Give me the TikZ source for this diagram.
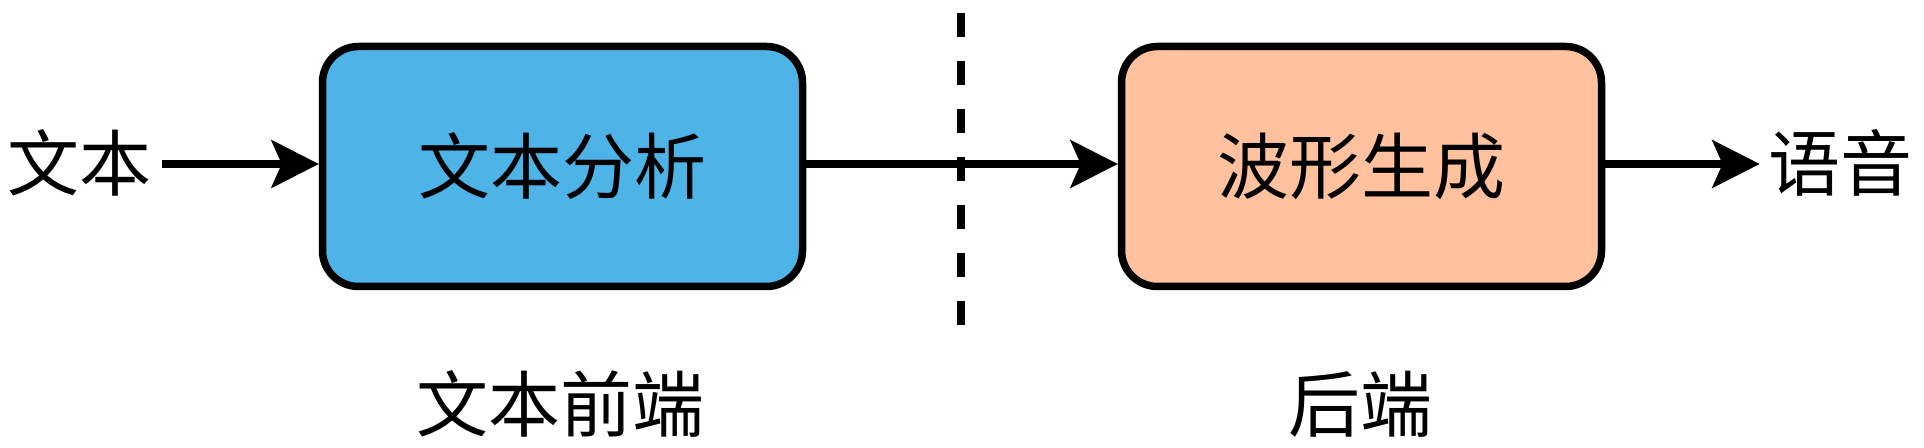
\documentclass[tikz,border=0pt]{standalone}
\usepackage{fontspec}
\setmainfont{Noto Sans CJK SC}
\usetikzlibrary{arrows.meta}
\definecolor{boxblue}{RGB}{78,179,230}
\definecolor{boxpeach}{RGB}{255,193,158}
\begin{document}
\begin{tikzpicture}[x=0.5pt,y=-0.5pt,
  proc/.style={draw=black, line width=3.75pt, rounded corners=18pt,
    minimum width=240pt, minimum height=120pt, inner sep=0pt,
    font=\fontsize{36pt}{40pt}\selectfont},
  lbl/.style={inner sep=0pt, font=\fontsize{36pt}{40pt}\selectfont},
  arr/.style={line width=4pt, -{Stealth[length=24pt,width=24.5pt,inset=5.5pt,line width=0pt]}},
  divider/.style={line width=3.8pt, dash pattern=on 12pt off 12pt}]
\useasboundingbox (0,0) rectangle (1924,448);
\node[lbl] (src) at (80,163) {文本};
\node[lbl] (dst) at (1840,163) {语音};
\node[proc, fill=boxblue] (b1) at (562.5,166.5) {文本分析};
\node[proc, fill=boxpeach] (b2) at (1361.5,166.5) {波形生成};
\node[lbl] (fe) at (560,404) {文本前端};
\node[lbl] (be) at (1360,404) {后端};
\coordinate (dtop) at (961,13);
\coordinate (dbot) at (961,325);
\draw[divider] (dtop) -- (dbot);
\draw[arr] ([xshift=5pt,yshift=-0.5pt]src.east) -- ([yshift=1.25pt]b1.west);
\draw[arr] ([yshift=1.25pt]b1.east) -- ([yshift=1.25pt]b2.west);
\draw[arr] ([yshift=1.25pt]b2.east) -- ([xshift=-4pt,yshift=-0.5pt]dst.west);
\end{tikzpicture}
\end{document}
